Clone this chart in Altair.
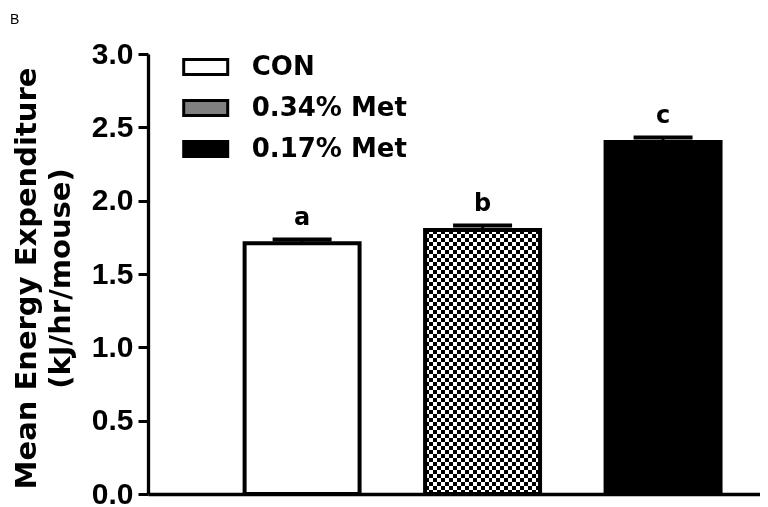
import altair as alt
import pandas as pd

# ---- data ----
groups = ["CON", "0.34% Met", "0.17% Met"]
means = [1.71, 1.80, 2.40]
sems = [0.025, 0.03, 0.03]
letters = ["a", "b", "c"]
y_ticks = [0.0, 0.5, 1.0, 1.5, 2.0, 2.5, 3.0]

df = pd.DataFrame({"group": groups, "mean": means, "sem": sems, "letter": letters})
df["top"] = df["mean"] + df["sem"]

BOLD_SANS = "DejaVu Sans"
ARIAL = "Liberation Sans"

xscale = alt.Scale(domain=groups, paddingInner=0.363, paddingOuter=0.377, align=0.71)
yscale = alt.Scale(domain=[0, 3], nice=False, zero=True)

xaxis = alt.Axis(labels=False, ticks=False, title=None, grid=False,
                 domainColor="black", domainWidth=3.3)
yaxis = alt.Axis(values=y_ticks, format=".1f", grid=False,
                 title=["Mean Energy Expenditure", "(kJ/hr/mouse)"],
                 titleFont=BOLD_SANS, titleFontSize=29, titleFontWeight="bold",
                 titleColor="black", titleAngle=270, titleAlign="center",
                 titleBaseline="middle", titleLineHeight=34,
                 titleX=-122, titleY=224,
                 labelFont=ARIAL, labelFontSize=30, labelFontWeight="bold",
                 labelColor="black", labelPadding=5, labelFlush=False,
                 labelOverlap=False,
                 tickSize=10, tickWidth=3, tickColor="black",
                 domainColor="black", domainWidth=3.3)

X = alt.X("group:N", sort=groups, scale=xscale, axis=xaxis)


def Y(field):
    return alt.Y(f"{field}:Q", scale=yscale, axis=yaxis)


# stripe gradients for the checker pattern
def stripes(n, vertical):
    stops = []
    for i in range(n):
        c = "white" if i % 2 == 0 else "black"
        stops.append(alt.GradientStop(color=c, offset=i / n))
        stops.append(alt.GradientStop(color=c, offset=(i + 1) / n))
    if vertical:
        return alt.LinearGradient(gradient="linear", stops=stops, x1=0, x2=1, y1=0, y2=0)
    return alt.LinearGradient(gradient="linear", stops=stops, x1=0, x2=0, y1=0, y2=1)


base = alt.Chart(df)

bars = base.mark_bar(strokeWidth=0).encode(
    x=X,
    y=Y("mean"),
    fill=alt.Fill("group:N", sort=groups,
                  scale=alt.Scale(domain=groups, range=["white", "#808080", "black"]),
                  legend=alt.Legend(title=None, orient="none", legendX=44.7, legendY=0,
                                    padding=0, symbolType="M-2,-0.68H2V0.68H-2Z",
                                    symbolSize=484, symbolStrokeColor="black",
                                    symbolStrokeWidth=3, symbolOpacity=1,
                                    labelFont=BOLD_SANS, labelFontSize=26,
                                    labelFontWeight="bold", labelColor="black",
                                    labelOffset=33, rowPadding=13, labelLimit=400)),
)

met34 = base.transform_filter(alt.datum.group == "0.34% Met")
check_h = met34.mark_bar(fill=stripes(66, False), strokeWidth=0).encode(x=X, y=Y("mean"))
check_v = met34.mark_bar(fill=stripes(29, True), strokeWidth=0, blend="difference").encode(
    x=X, y=Y("mean"))

outline = base.mark_bar(fillOpacity=0, stroke="black", strokeWidth=4).encode(x=X, y=Y("mean"))

err = base.mark_rule(color="black", strokeWidth=3).encode(x=X, y=Y("mean"), y2="top:Q")
cap = base.mark_tick(color="black", size=59, thickness=4, opacity=1).encode(x=X, y=Y("top"))

labels = base.mark_text(font=BOLD_SANS, fontSize=24, fontWeight="bold", color="black",
                        baseline="alphabetic", dy=-15).encode(
    x=X, y=Y("top"), text="letter:N")

chart = alt.layer(bars, check_h, check_v, outline, err, cap, labels).properties(
    width=612, height=440,
    padding={"left": 140, "top": 46, "right": 0, "bottom": 12},
    autosize=alt.AutoSizeParams(type="none"),
    background="white",
    title=alt.TitleParams("B", anchor="start", frame="group", font=ARIAL, fontSize=14,
                          fontWeight="normal", color="black", dx=-138, offset=12),
).configure_view(stroke=None)

chart.save("out.html", embed_options={"renderer": "svg", "actions": False})
